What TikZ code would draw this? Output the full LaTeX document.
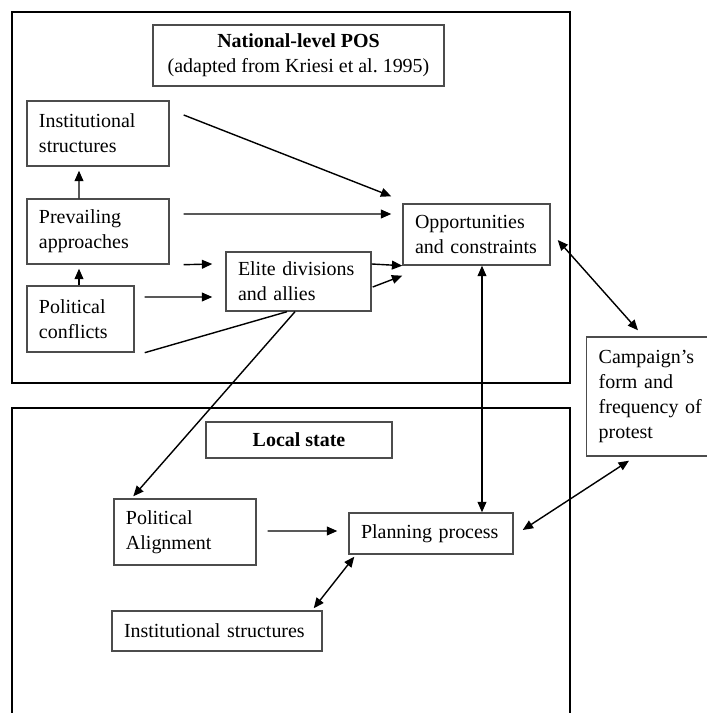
\documentclass[tikz,border=0pt]{standalone}
\usepackage{fontspec}
\setmainfont{Liberation Serif}
\usetikzlibrary{arrows.meta,calc}
\frenchspacing

\begin{document}
\begin{tikzpicture}[x=1cm,y=1cm,
  box/.style={draw=black!70, line width=1pt, inner xsep=0.3cm, inner ysep=0pt, align=left, font=\fontsize{14.2}{17.8}\selectfont},
  ttl/.style={box, align=center},
  arr/.style={-{Triangle[length=2.6mm,width=2.2mm]}, line width=1pt},
  dbl/.style={{Triangle[length=2.6mm,width=2.2mm]}-{Triangle[length=2.6mm,width=2.2mm]}, line width=1pt}]
\useasboundingbox (0,0) rectangle (17.675,17.825);
% the two levels
\draw[line width=1.6pt] (0.3,8.25) rectangle (14.25,17.525);
\draw[line width=1.6pt] (0.3,-0.2) -- (0.3,7.625) -- (14.25,7.625) -- (14.25,-0.2);
% national level
\node[ttl, minimum width=7.275cm, minimum height=1.525cm] (npos) at (7.4625,16.4375) {\textbf{National-level POS}\\(adapted from Kriesi et al. 1995)};
\node[box, text width=2.95cm, minimum height=1.625cm] (instN) at (2.45,14.4875) {Institutional\\structures};
\node[box, text width=2.95cm, minimum height=1.625cm] (prev) at (2.45,12.0375) {Prevailing\\approaches};
\node[box, text width=2.075cm, minimum height=1.65cm] (conf) at (2.0125,9.85) {Political\\conflicts};
\node[box, text width=3.025cm, minimum height=1.475cm] (elite) at (7.4625,10.7875) {Elite divisions\\and allies};
\node[box, text width=3.075cm, minimum height=1.525cm] (opp) at (11.9125,11.9625) {Opportunities\\and constraints};
\node[box, anchor=west, text width=2.65cm, minimum height=2.975cm] (camp) at (14.65,7.9125) {Campaign's\\form and\\frequency of\\protest};
% local level
\node[ttl, minimum width=4.65cm, minimum height=0.9cm] (local) at (7.475,6.825) {\textbf{Local state}};
\node[box, text width=2.95cm, minimum height=1.65cm] (align) at (4.625,4.525) {Political\\Alignment};
\node[box, text width=3.5cm, minimum height=1.025cm] (plan) at (10.775,4.4875) {Planning process};
\node[box, text width=4.65cm, minimum height=1.0cm] (instL) at (5.425,2.05) {Institutional structures};
% arrows
\draw[arr] ([xshift=-0.475cm]prev.north) -- ([shift={(-0.475,-0.1)}]instN.south);
\draw[arr] ([xshift=-0.0375cm]conf.north) -- ([shift={(-0.475,-0.1)}]prev.south);
\draw[arr] ([shift={(0.35,0.4625)}]instN.east) -- ([shift={(-0.275,0.175)}]opp.north west);
\draw[arr] ([shift={(0.35,0.4375)}]prev.east) -- ([shift={(-0.275,0.5125)}]opp.west);
\draw[arr] ([xshift=0.35cm]prev.south east) -- ([shift={(-0.325,0.4375)}]elite.west);
\draw[arr] ([shift={(0.25,0.55)}]conf.east) -- ([shift={(-0.325,-0.3875)}]elite.west);
\draw[line width=1pt] ([xshift=0.25cm]conf.south east) -- ([xshift=-0.2875cm]elite.south);
\draw[arr] ([yshift=0.4375cm]elite.east) -- (opp.south west);
\draw[arr] ([shift={(0.025,-0.1375)}]elite.east) -- ([yshift=-0.25cm]opp.south west);
\draw[arr] ([xshift=-0.0875cm]elite.south) -- ([shift={(0.5,0.05)}]align.north west);
\coordinate (oppfoot) at ([xshift=0.1375cm]opp.south);
\draw[dbl] (oppfoot) -- (oppfoot |- plan.north);
\draw[dbl] ([shift={(0.175,-0.1375)}]opp.east) -- ([shift={(1.3,0.15)}]camp.north west);
\draw[dbl] ([shift={(1.075,-0.1)}]camp.south west) -- ([shift={(0.225,0.0875)}]plan.east);
\draw[arr] ([shift={(0.275,0.025)}]align.east) -- ([shift={(-0.275,0.0625)}]plan.west);
\draw[dbl] ([shift={(-0.225,0.05)}]instL.north east) -- ([shift={(0.15,-0.05)}]plan.south west);
\end{tikzpicture}
\end{document}
